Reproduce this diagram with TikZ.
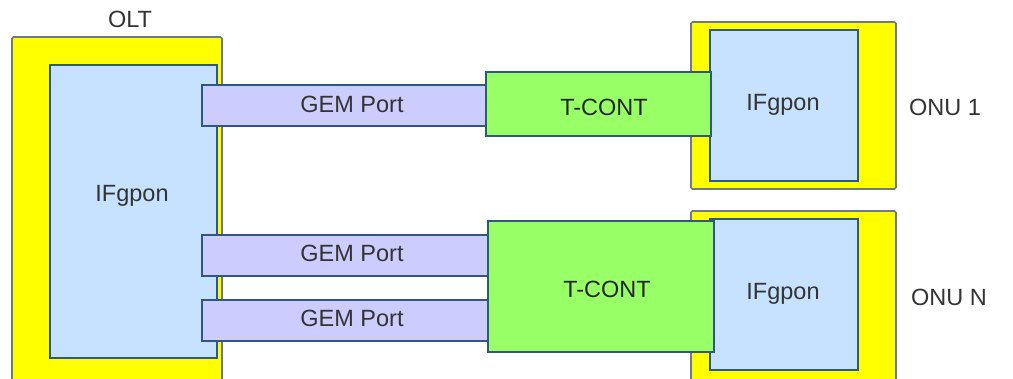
\documentclass[tikz,border=0pt]{standalone}
\usepackage{fontspec}
\setmainfont{Liberation Sans}
\definecolor{devyellow}{HTML}{FFFF00}
\definecolor{devedge}{HTML}{6E7A80}
\definecolor{ifblue}{HTML}{C6E2FF}
\definecolor{gemlav}{HTML}{CCCCFF}
\definecolor{tcgreen}{HTML}{99FF66}
\definecolor{boxedge}{HTML}{2E5783}
\definecolor{labelgray}{HTML}{333333}
\tikzset{
  box/.style={rectangle, inner sep=0pt, line width=1.6pt, draw=boxedge},
  device/.style={box, draw=devedge, fill=devyellow, rounded corners=1.5pt},
  ifbox/.style={box, fill=ifblue},
  gembox/.style={box, fill=gemlav},
  tcbox/.style={box, fill=tcgreen},
  txt/.style={inner sep=0pt, font=\fontsize{23.5}{25}\selectfont, text=labelgray},
}
\begin{document}
\begin{tikzpicture}[x=1pt, y=-1pt]
\useasboundingbox (0,0) rectangle (1013,378);
% OLT side
\node[device, minimum width=210pt, minimum height=350pt] (olt) at (117,212) {};
\node[ifbox, minimum width=167pt, minimum height=293pt] (oltif) at (133.5,211.5) {};
\node[txt] (oltlabel) at (130,19) {OLT};
\node[txt] (oltiftext) at (132,196) {IFgpon};
% ONU 1
\node[device, minimum width=205pt, minimum height=167pt] (onu1) at (793.5,105.5) {};
\node[ifbox, minimum width=148pt, minimum height=151pt] (onu1if) at (784,105.5) {};
\node[txt] (onu1iftext) at (783,105) {IFgpon};
\node[txt] (onu1label) at (945,107) {ONU 1};
% ONU N
\node[device, minimum width=205pt, minimum height=176pt] (onun) at (793.5,299) {};
\node[ifbox, minimum width=148pt, minimum height=151pt] (onunif) at (784,294.5) {};
\node[txt] (onuniftext) at (783,294) {IFgpon};
\node[txt] (onunlabel) at (949,297) {ONU N};
% GEM ports
\node[gembox, minimum width=300pt, minimum height=41pt] (gem1) at (352,105.5) {};
\node[gembox, minimum width=300pt, minimum height=41pt] (gem2) at (352,255.5) {};
\node[gembox, minimum width=300pt, minimum height=41pt] (gem3) at (352,320.5) {};
\node[txt] (gem1text) at (352,104) {GEM Port};
\node[txt] (gem2text) at (352,253) {GEM Port};
\node[txt] (gem3text) at (352,318) {GEM Port};
% T-CONTs
\node[tcbox, minimum width=225pt, minimum height=64pt] (tc1) at (598.5,104) {};
\node[tcbox, minimum width=226pt, minimum height=131pt] (tcn) at (601,286.5) {};
\node[txt, text=black!85] (tc1text) at (604,107) {T-CONT};
\node[txt, text=black!85] (tcntext) at (607,289) {T-CONT};
\end{tikzpicture}
\end{document}
